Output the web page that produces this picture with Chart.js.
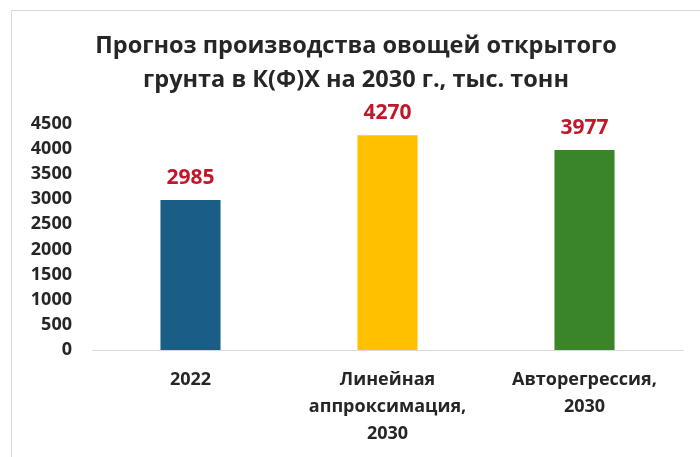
<!DOCTYPE html>
<html>
<head>
<meta charset="utf-8">
<script src="https://cdn.jsdelivr.net/npm/chart.js@4"></script>
<style>
  html, body { margin: 0; padding: 0; background: #fff; }
  #wrap { position: relative; width: 700px; height: 457px; overflow: hidden; }
  #frame { position: absolute; left: 11px; top: 10px; width: 720px; height: 480px; border: 1px solid #d9d9d9; box-sizing: border-box; }
  canvas { position: absolute; left: 0; top: 0; }
</style>
</head>
<body>
<div id="wrap">
  <div id="frame"></div>
  <canvas id="forecast" width="700" height="457"></canvas>
</div>
<script>
// Data
var categories = [['2022'], ['Линейная', 'аппроксимация,', '2030'], ['Авторегрессия,', '2030']];
var values = [2985, 4270, 3977];
var barColors = ['#1b5e85', '#ffc000', '#3a8529'];
var titleLines = ['Прогноз производства овощей открытого', 'грунта в К(Ф)Х на 2030 г., тыс. тонн'];
var yMin = 0, yMax = 4500, yStep = 500;

var fontFamily = "'Open Sans', 'Noto Sans', sans-serif";

// draws value labels above bars (red, bold)
var valueLabels = {
    id: 'valueLabels',
    afterDatasetsDraw: function (chart) {
        var c = chart.ctx;
        var meta = chart.getDatasetMeta(0);
        c.save();
        c.font = 'bold 21px ' + fontFamily;
        c.fillStyle = '#c0182a';
        c.textAlign = 'center';
        c.textBaseline = 'middle';
        meta.data.forEach(function (bar, i) {
            c.fillText(values[i], bar.x, bar.y - 22);
        });
        c.restore();
    }
};

var ctx = document.getElementById('forecast').getContext('2d');

var chart = new Chart(ctx, {
    type: 'bar',
    data: {
        labels: categories,
        datasets: [{
            data: values,
            backgroundColor: barColors,
            borderWidth: 0,
            categoryPercentage: 1,
            barPercentage: 0.305
        }]
    },
    options: {
        responsive: false,
        animation: false,
        layout: { padding: { left: 29, right: 17, top: 0, bottom: 9 } },
        plugins: {
            legend: { display: false },
            tooltip: { enabled: false },
            title: {
                display: true,
                text: titleLines,
                color: '#262626',
                font: { family: fontFamily, size: 23.5, weight: 'bold', lineHeight: 1.42 },
                padding: { top: 30, bottom: 27 }
            }
        },
        scales: {
            x: {
                grid: { display: false, drawTicks: false },
                border: { display: true, color: '#d9d9d9', width: 1 },
                afterFit: function (scale) { scale.height = 98; },
                ticks: {
                    color: '#262626',
                    padding: 16,
                    maxRotation: 0,
                    autoSkip: false,
                    font: { family: fontFamily, size: 18, weight: 'bold', lineHeight: 1.5 }
                }
            },
            y: {
                min: yMin,
                max: yMax,
                grid: { display: false, drawTicks: false },
                border: { display: false },
                afterFit: function (scale) { scale.width = 63; },
                ticks: {
                    stepSize: yStep,
                    color: '#262626',
                    padding: 20,
                    callback: function (v) { return String(v); },
                    font: { family: fontFamily, size: 18, weight: 'bold' }
                }
            }
        }
    },
    plugins: [valueLabels]
});
</script>
</body>
</html>
